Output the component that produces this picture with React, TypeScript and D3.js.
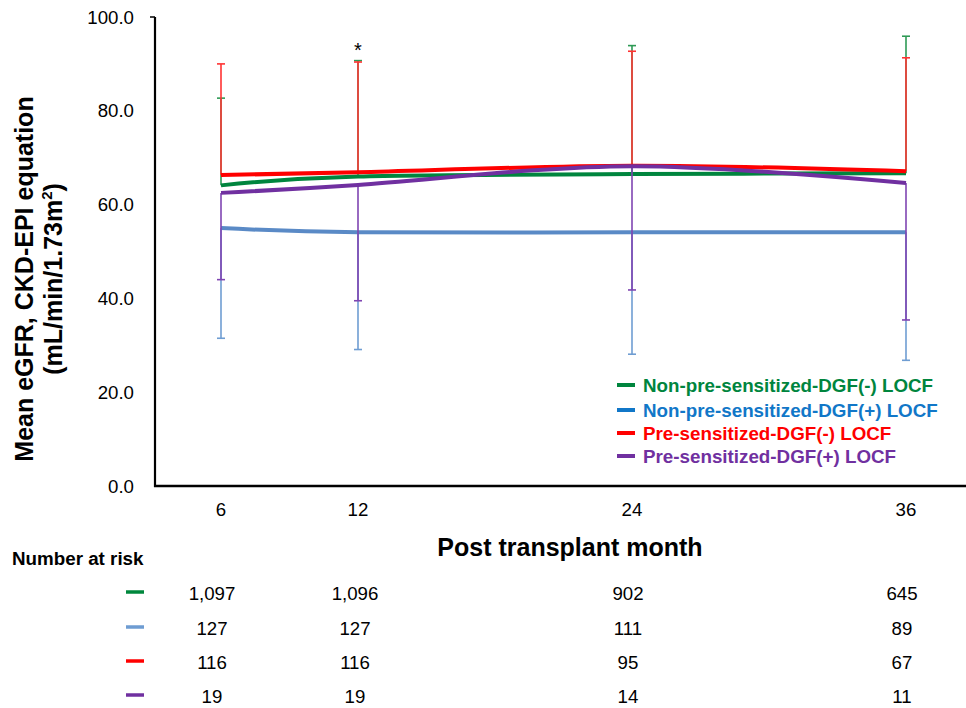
import * as d3 from "d3";

const months = [6, 12, 24, 36];
const seriesNames = [
  "Non-pre-sensitized-DGF(-) LOCF",
  "Non-pre-sensitized-DGF(+) LOCF",
  "Pre-sensitized-DGF(-) LOCF",
  "Pre-sensitized-DGF(+) LOCF",
];
const greenMean = [64.1, 66.0, 66.5, 66.7];
const blueMean = [55.0, 54.1, 54.1, 54.1];
const redMean = [66.3, 66.9, 68.3, 67.1];
const purpleMean = [62.5, 64.2, 68.2, 64.6];
// one-sided SD bars: green/red drawn up, blue/purple drawn down
const greenSd = [18.6, 24.7, 27.4, 29.2];
const blueSd = [23.5, 25.0, 26.0, 27.3];
const redSd = [23.7, 23.5, 24.4, 24.2];
const purpleSd = [18.5, 24.7, 26.4, 29.2];
const atRiskGreen = ["1,097", "1,096", "902", "645"];
const atRiskBlue = ["127", "127", "111", "89"];
const atRiskRed = ["116", "116", "95", "67"];
const atRiskPurple = ["19", "19", "14", "11"];
const yTicks = [0, 20, 40, 60, 80, 100];
const tableCols = [212, 355, 628, 902];

const series = [
  { name: seriesNames[0], mean: greenMean, sd: greenSd, dir: 1, line: "#00853E", bar: "#2E9A55", text: "#00853E", dash: "#00873C", risk: atRiskGreen },
  { name: seriesNames[1], mean: blueMean, sd: blueSd, dir: -1, line: "#5A8AC6", bar: "#6F9DD2", text: "#1177C8", dash: "#6E9CD2", risk: atRiskBlue },
  { name: seriesNames[2], mean: redMean, sd: redSd, dir: 1, line: "#FF0000", bar: "#FF3333", text: "#FF0000", dash: "#FF0000", risk: atRiskRed },
  { name: seriesNames[3], mean: purpleMean, sd: purpleSd, dir: -1, line: "#7030A0", bar: "#7F45B2", text: "#7030A0", dash: "#7030A0", risk: atRiskPurple },
];

const font = "Arial, 'Liberation Sans', sans-serif";

const App = () => {
  const width = 966;
  const height = 708;
  const left = 155;
  const bottom = 486;
  const top = 17;

  const x = d3.scaleLinear().domain([6, 36]).range([221, 906]);
  const y = d3.scaleLinear().domain([0, 100]).range([bottom, top]);

  const line = d3
    .line<number>()
    .x((d, i) => x(months[i]))
    .y((d) => y(d))
    .curve(d3.curveCardinal.tension(0));

  const legendRows = [385, 410, 433, 456];
  const riskRows = [593, 628, 662, 696];

  return (
    <svg width={width} height={height} style={{ position: "absolute", left: 0, top: 0 }} fontFamily={font}>
      <rect width={width} height={height} fill="#fff" />

      {/* series: error bars then mean line, in legend order */}
      {series.map((s) => (
        <g key={s.name}>
          {s.mean.map((m, i) => {
            const end = m + s.dir * s.sd[i];
            return (
              <g key={i} stroke={s.bar} strokeWidth={1.6}>
                <line x1={x(months[i])} x2={x(months[i])} y1={y(m)} y2={y(end)} />
                <line x1={x(months[i]) - 4} x2={x(months[i]) + 4} y1={y(end)} y2={y(end)} />
              </g>
            );
          })}
          <path d={line(s.mean) || ""} fill="none" stroke={s.line} strokeWidth={4} />
        </g>
      ))}

      <text x={x(12)} y={y(100) + 40} textAnchor="middle" fontSize={20} fill="#000">*</text>

      {/* axes */}
      <line x1={left} x2={left} y1={top} y2={bottom + 1} stroke="#000" strokeWidth={2.2} />
      <line x1={left - 5} x2={left} y1={top} y2={top} stroke="#000" strokeWidth={1.5} />
      <line x1={left - 1} x2={width} y1={bottom} y2={bottom} stroke="#000" strokeWidth={2.4} />

      {yTicks.map((t) => (
        <text key={t} x={134} y={y(t) + 6.5} textAnchor="end" fontSize={18.67} fill="#000">
          {d3.format(".1f")(t)}
        </text>
      ))}
      {months.map((m) => (
        <text key={m} x={x(m)} y={516} textAnchor="middle" fontSize={18.67} fill="#000">
          {m}
        </text>
      ))}

      <text x={570} y={556} textAnchor="middle" fontSize={25} fontWeight="bold" fill="#000">
        Post transplant month
      </text>

      <g transform="translate(33,279) rotate(-90)">
        <text x={0} y={0} textAnchor="middle" fontSize={25} fontWeight="bold" fill="#000">
          Mean eGFR, CKD-EPI equation
        </text>
        <text x={0} y={29} textAnchor="middle" fontSize={25} fontWeight="bold" fill="#000">
          (mL/min/1.73m<tspan fontSize={15} dy={-10}>2</tspan>
          <tspan dy={10}>)</tspan>
        </text>
      </g>

      {/* legend */}
      {series.map((s, i) => (
        <g key={s.name}>
          <line x1={617} x2={635} y1={legendRows[i]} y2={legendRows[i]} stroke={s.line === "#5A8AC6" ? "#1177C8" : s.line} strokeWidth={4} />
          <text x={643} y={legendRows[i] + 6.5} fontSize={18.8} fontWeight="bold" fill={s.text}>
            {s.name}
          </text>
        </g>
      ))}

      {/* number at risk */}
      <text x={12} y={565} fontSize={18.8} fontWeight="bold" fill="#000">Number at risk</text>
      {series.map((s, i) => (
        <g key={s.name}>
          <line x1={126} x2={144} y1={riskRows[i] - 1} y2={riskRows[i] - 1} stroke={s.dash} strokeWidth={3.5} />
          {s.risk.map((v, j) => (
            <text key={j} x={tableCols[j]} y={riskRows[i] + 6.5} textAnchor="middle" fontSize={18.67} fill="#000">
              {v}
            </text>
          ))}
        </g>
      ))}
    </svg>
  );
};

export default App;
